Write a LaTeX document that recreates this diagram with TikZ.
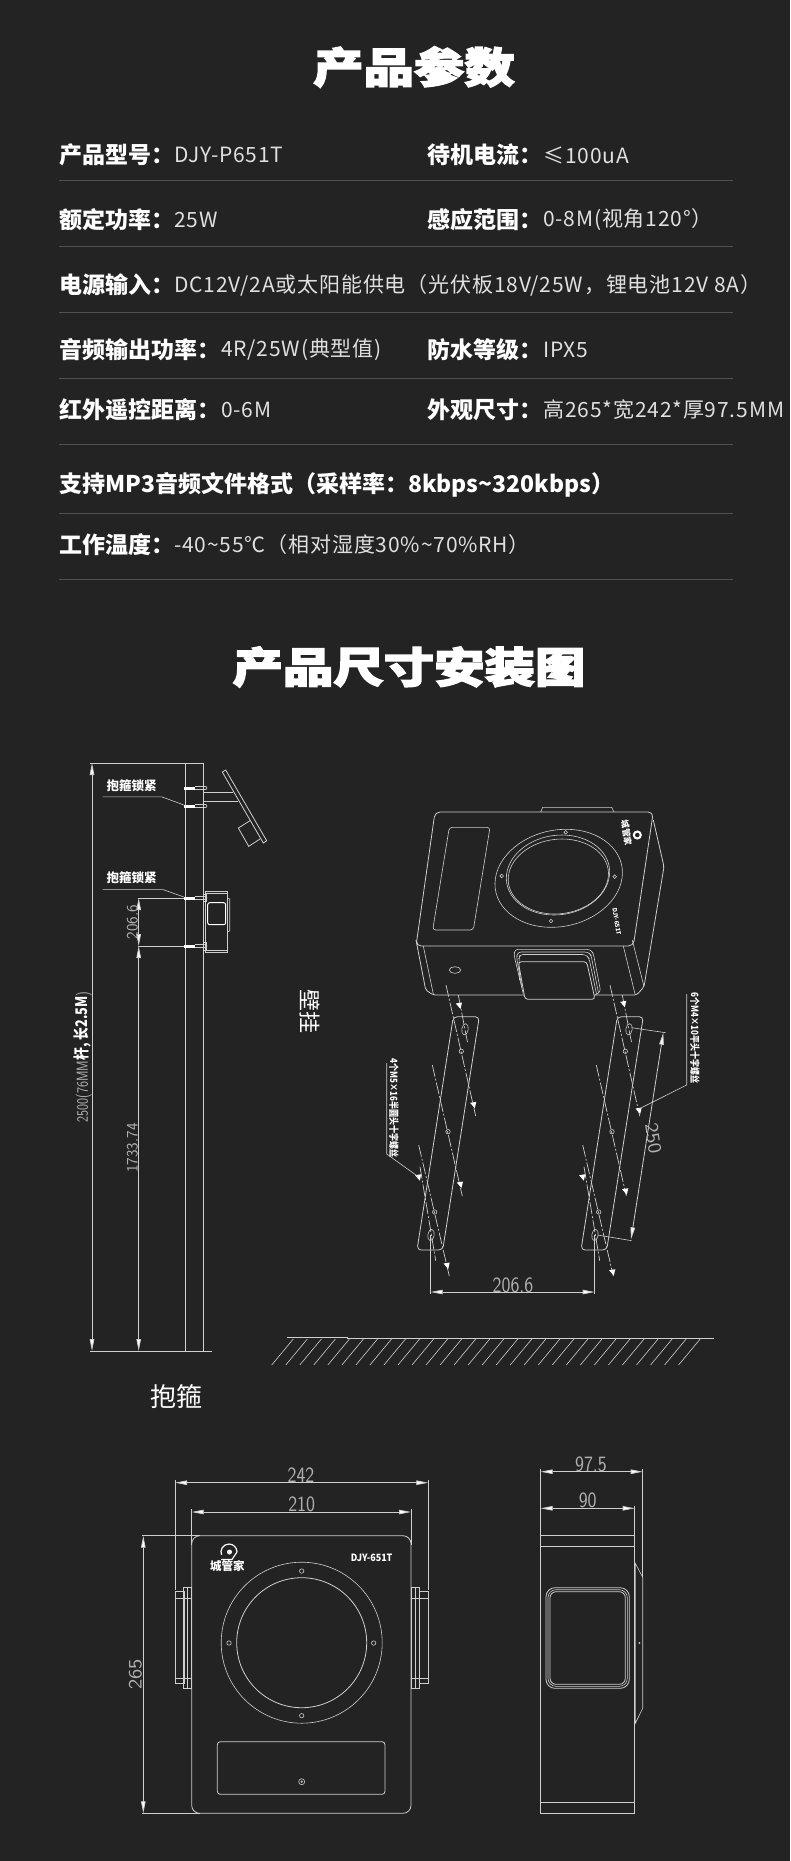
\documentclass[tikz,border=0pt]{standalone}
\usepackage{fontspec}
\setmainfont{Noto Sans CJK SC}
\newfontfamily\ttlfont[BoldFeatures={FakeBold=3}]{Noto Sans CJK SC}
\newfontfamily\valfont[LetterSpace=4]{Noto Sans CJK SC}
\usetikzlibrary{arrows.meta}
\definecolor{bgdark}{HTML}{232323}
\definecolor{cadline}{HTML}{CFCFCF}
\definecolor{cadtext}{HTML}{B0B0B0}
\definecolor{rowrule}{HTML}{515151}
\tikzset{
	cad/.style={draw=cadline,line width=.8pt},
	dimline/.style={cad,{Triangle[length=12pt,width=4.5pt,fill=white]}-{Triangle[length=12pt,width=4.5pt,fill=white]}},
	extline/.style={draw=cadline,line width=.6pt},
	centerline/.style={draw=cadline,line width=.7pt,dash pattern=on 12pt off 2pt on 2pt off 2pt},
	bighead/.style={font=\ttlfont\bfseries\fontsize{42}{42}\selectfont,text=white,xscale=1.2,inner sep=0pt},
	rowkey/.style={font=\bfseries\fontsize{23}{23}\selectfont,text=white,anchor=west,inner sep=0pt},
	rowval/.style={font=\valfont\fontsize{21}{22}\selectfont,text=white!88!black,anchor=west,inner sep=0pt},
	dimtext/.style={font=\sffamily\fontsize{19}{19}\selectfont,text=cadtext,inner sep=0pt,yscale=1.15},
	poletext/.style={font=\sffamily\fontsize{16}{16}\selectfont,text=cadtext,inner sep=0pt,rotate=90},
	cadnote/.style={font=\bfseries\fontsize{12.5}{12.5}\selectfont,text=white,inner sep=0pt},
	screwnote/.style={font=\bfseries\fontsize{8}{8}\selectfont,text=white,inner sep=0pt,rotate=-90,yscale=1.25}
}
\begin{document}
\begin{tikzpicture}[x=1pt,y=-1pt]
	\fill[bgdark] (0,0) rectangle (790,1861);
	\useasboundingbox (0,0) rectangle (790,1861);
	\node[bighead] (paramhead) at (414,67) {产品参数};
	\node[rowkey] (keymodel) at (59,155) {产品型号：};
	\node[rowval] (valmodel) at (174,155) {DJY-P651T};
	\node[rowkey] (keyidle) at (427,155) {待机电流：};
	\node[rowval] (validle) at (543,155) {≤100uA};
	\node[rowkey] (keypower) at (59,220) {额定功率：};
	\node[rowval] (valpower) at (174,220) {25W};
	\node[rowkey] (keyrange) at (427,220) {感应范围：};
	\node[rowval] (valrange) at (543,220) {0-8M(视角120°）};
	\node[rowkey] (keyinput) at (59,285) {电源输入：};
	\node[rowval] (valinput) at (174,285) {DC12V/2A或太阳能供电（光伏板18V/25W，锂电池12V 8A）};
	\node[rowkey] (keyaudio) at (59,350) {音频输出功率：};
	\node[rowval] (valaudio) at (221,350) {4R/25W(典型值)};
	\node[rowkey] (keywater) at (427,350) {防水等级：};
	\node[rowval] (valwater) at (543,350) {IPX5};
	\node[rowkey] (keyremote) at (59,410) {红外遥控距离：};
	\node[rowval] (valremote) at (221,410) {0-6M};
	\node[rowkey] (keysize) at (427,410) {外观尺寸：};
	\node[rowval] (valsize) at (543,410) {高265*宽242*厚97.5MM};
	\node[rowkey] (keymp) at (59,485) {支持MP3音频文件格式（采样率：8kbps\textasciitilde320kbps）};
	\node[rowkey] (keytemp) at (59,545) {工作温度：};
	\node[rowval] (valtemp) at (174,545) {-40\textasciitilde55℃（相对湿度30\%\textasciitilde70\%RH）};
	\foreach \ruley in {180,246.5,312,378.5,444.7,513.6,579.4}
		\draw[rowrule,line width=1pt] (59,\ruley) -- (733,\ruley);
	\node[bighead] (sizehead) at (409,667) {产品尺寸安装图};

	\draw[cad] (185,763) -- (185,1351);
	\draw[cad] (203,763) -- (203,1351);
	\draw[extline] (90,763) -- (203,763);
	\draw[extline] (90,1351) -- (212,1351);
	\draw[dimline] (92,763) -- (92,1351);
	\draw[dimline] (138.7,898) -- (138.7,946);
	\draw[dimline] (138.7,946) -- (138.7,1351);
	\draw[extline] (138,898) -- (185,898);
	\draw[extline] (138,946) -- (185,946);
	\node[poletext,xscale=.8] (poledim) at (83,1057) {2500(76MM\textcolor{white}{\normalfont\bfseries 杆, 长2.5M})};
	\node[poletext] (gapdim) at (132.5,922) {206.6};
	\node[poletext] (lowdim) at (132.5,1148) {1733.74};
	\node[cadnote] (clampnote) at (131.7,785.5) {抱箍锁紧};
	\node[cadnote] (lampnote) at (131.7,877.5) {抱箍锁紧};
	\draw[extline] (102.7,796.8) -- (161.7,796.8) -- (184,805);
	\draw[extline] (102.7,889.6) -- (163,889.6) -- (184,897);
	\foreach \clampy in {788,806,898,946}{
		\fill[white] (184,\clampy-1.5) rectangle (195,\clampy+1.5);
		\draw[extline] (195,\clampy-1.5) -- (206,\clampy-1.5) -- (207,\clampy) -- (206,\clampy+1.5) -- (195,\clampy+1.5);
	}
	\draw[extline] (203,792.3) -- (233,792.3);
	\draw[extline] (203,801.7) -- (238,801.7);
	\draw[cad] (222.3,772) -- (225.7,770) -- (266.7,840.7) -- (263.3,843) -- cycle;
	\draw[cad] (250,820.7) -- (238.3,828) -- (248.7,846.3) -- (260,839);
	\draw[extline] (205,891) rectangle (227.7,952.7);
	\draw[extline] (205,893.3) -- (227.7,893.3);
	\draw[extline] (205,950) -- (227.7,950);
	\draw[white,line width=1pt,rounded corners=2pt] (207.7,902.7) rectangle (225.7,924.7);
	\draw[extline] (227.7,898) -- (229.7,899) -- (229.7,931) -- (227.7,931.7);
	\draw[extline] (203,894) rectangle (206.7,901.7);
	\draw[extline] (203,942.7) rectangle (206.7,950);

	\node[font=\fontsize{22}{22}\selectfont,text=white,rotate=-90,inner sep=0pt] (wallnote) at (309.5,1011) {壁挂};
	\node[font=\fontsize{26}{26}\selectfont,text=white,inner sep=0pt] (hoopnote) at (176,1397) {抱箍};

	\draw[cad,rounded corners=5pt] (435,812) -- (653.3,812) -- (633.3,946) -- (416,946) -- cycle;
	\draw[extline] (540.7,812) -- (542.7,807.3) -- (611.7,807.3) -- (614,812);
	\draw[extline,rounded corners=3pt] (449.3,827.3) -- (490,827.3) -- (473.3,930) -- (432.7,930) -- cycle;
	\begin{scope}[shift={(558.7,878.3)},xslant=.15]
		\draw[extline] (0,0) ellipse (63.3pt and 49pt);
	\end{scope}
	\begin{scope}[shift={(558,875)},xslant=.1]
		\draw[extline] (0,0) ellipse (51.5pt and 40pt);
		\draw[extline] (.5,1.5) ellipse (50pt and 37.5pt);
	\end{scope}
	\foreach \hx/\hy in {565.7/832.3,551/921,501.7/876,614.7/876.7}
		\draw[extline] (\hx,\hy) circle[radius=1.8pt];
	\node[font=\bfseries\fontsize{8.5}{8.5}\selectfont,text=white,rotate=-81,inner sep=0pt] (tiltlogo) at (626.5,833) {城管家};
	\draw[white,line width=2pt] (637.3,835) circle[radius=3.5pt];
	\node[font=\bfseries\fontsize{6}{6}\selectfont,text=white,rotate=-81,inner sep=0pt] (tiltmodel) at (616.7,921.7) {DJY-651T};
	\draw[cad,rounded corners=2pt] (416,940) -- (425.7,990) -- (433.3,995) -- (636.7,995) -- (644,986.7) -- (664,866.7) -- (653.3,820);
	\draw[extline] (423.3,946) -- (433.3,994);
	\draw[extline] (623.3,946) -- (635,994);
	\draw[extline] (632.3,940) -- (644,986.7);
	\draw[extline] (455,970) ellipse (5.7pt and 3.3pt);
	\draw[extline,rounded corners=3pt] (523.3,994) -- (514,955) -- (515,949.3) -- (590,949.3) -- (593.3,953.3) -- (600.7,991.7) -- (595,995);
	\draw[extline,rounded corners=3pt] (521.5,985) -- (516.5,957) -- (518,952) -- (588,952) -- (591,955) -- (598.5,993);
	\draw[extline,rounded corners=3pt] (519.5,980) -- (519,958) -- (520,954.5) -- (585.7,954.5) -- (589,958) -- (596.5,994);
	\draw[cad,fill=bgdark,rounded corners=3pt] (518.3,961.7) -- (586.7,961.7) -- (595,999.3) -- (525,999.3) -- cycle;

	\foreach \bx in {0,164}{
		\begin{scope}[xshift=\bx pt]
			\draw[cad,rounded corners=4pt] (453.3,1016.7) -- (479.3,1016.7) -- (442.7,1250) -- (417,1250) -- cycle;
			\draw[extline,rotate around={-9:(465,1029.3)}] (465,1029.3) ellipse (3.2pt and 5.7pt);
			\draw[extline,rotate around={-9:(431,1235)}] (431,1235) ellipse (3.2pt and 5.7pt);
			\foreach \hy/\hx in {1051.3/461.3,1131.7/448,1212/434.7}
				\draw[extline] (\hx,\hy) circle[radius=2.2pt];
			\draw[centerline] (458.3,995) -- (467.7,1043.3);
			\draw[centerline] (446,985) -- (475.7,1116);
			\draw[centerline] (432.3,1065) -- (462.3,1196);
			\draw[centerline] (418.7,1145) -- (449.3,1276);
			\draw[centerline] (420,1166.7) -- (435.7,1260.7);
		\end{scope}
	}
	\foreach \sx/\sy in {459/1005,473.3/1104.3,460/1184,446.7/1265,418.3/1176.7,623.3/1003.3,638.7/1110,625.3/1190.7,612.3/1271.7,582.3/1176.7}
		\fill[white] (\sx-3.2,\sy-1.5) -- (\sx+3,\sy-2.5) -- (\sx+1.5,\sy+4) -- cycle;
	\draw[dimline] (430.7,1292) -- (594.7,1292);
	\draw[extline] (430.7,1235) -- (430.7,1294);
	\draw[extline] (594.7,1235) -- (594.7,1294);
	\node[dimtext] (spandim) at (513,1285) {206.6};
	\draw[dimline] (663.3,1032.7) -- (631,1239.3);
	\draw[extline] (631.7,1027.7) -- (665.7,1032.7);
	\draw[extline] (597.7,1235) -- (631.7,1240.7);
	\node[dimtext,rotate=-81] (slotdim) at (653.3,1138.3) {250};
	\draw[extline] (686.7,994) -- (686.7,1085) -- (638.3,1109.3);
	\draw[extline] (386.7,1063) -- (386.7,1154) -- (418.3,1176.7);
	\node[screwnote] (rightscrew) at (695,1038) {6个M4×10平头十字螺丝};
	\node[screwnote] (leftscrew) at (394,1108) {4个M5×16半圆头十字螺丝};

	\draw[cad] (286.7,1337.5) -- (347,1337.5) -- (347,1338.3) -- (714,1338.3);
	\foreach \i in {0,...,29}
		\draw[extline] ({271.7+14.03*\i},1365) -- ({293.3+14.03*\i},1339);

	\draw[cad,rounded corners=8pt] (191.7,1535.7) rectangle (411,1813.3);
	\draw[dimline] (175,1482.7) -- (428.3,1482.7);
	\draw[dimline] (191.7,1512) -- (411,1512);
	\draw[dimline] (143.3,1535.7) -- (143.3,1813.3);
	\draw[extline] (175,1480) -- (175,1590);
	\draw[extline] (428.3,1480) -- (428.3,1590);
	\draw[extline] (191.7,1509) -- (191.7,1545);
	\draw[extline] (411,1509) -- (411,1545);
	\draw[extline] (142,1535.7) -- (200,1535.7);
	\draw[extline] (142,1813.3) -- (200,1813.3);
	\node[dimtext] (widthdim) at (301,1475) {242};
	\node[dimtext] (innerdim) at (301.7,1504.5) {210};
	\node[dimtext,rotate=90] (heightdim) at (135.5,1674.3) {265};
	\draw[extline] (301.7,1642.7) circle[radius=80.5pt];
	\draw[cad] (301.7,1642.7) circle[radius=65pt];
	\foreach \hx/\hy in {301.7/1571,301.7/1715.7,229/1643,373.7/1643}
		\draw[extline] (\hx,\hy) circle[radius=2.2pt];
	\draw[cad,rounded corners=3pt] (217.3,1741.7) rectangle (385,1794.3);
	\draw[extline] (301.7,1781.7) circle[radius=3pt];
	\fill[cadline] (301.7,1781.7) circle[radius=1.2pt];
	\draw[extline] (175,1591.7) rectangle (184,1683.3);
	\draw[extline] (183.3,1587.7) rectangle (191.7,1688.3);
	\draw[extline] (187.3,1587.7) -- (187.3,1688.3);
	\draw[extline] (175,1598) -- (191.7,1598);
	\draw[extline] (175,1678) -- (191.7,1678);
	\draw[extline] (419.3,1591.7) rectangle (428.3,1683.3);
	\draw[extline] (411,1587.7) rectangle (419.3,1688.3);
	\draw[extline] (415,1587.7) -- (415,1688.3);
	\draw[extline] (411,1598) -- (428.3,1598);
	\draw[extline] (411,1678) -- (428.3,1678);
	\node[font=\bfseries\fontsize{10}{10}\selectfont,text=white,inner sep=0pt,xscale=.9] (frontmodel) at (371.7,1557.7) {DJY-651T};
	\node[font=\bfseries\fontsize{11.5}{11.5}\selectfont,text=white,inner sep=0pt] (frontlogo) at (227.3,1566) {城管家};
	\draw[white,line width=1.2pt] (237,1552) arc[start angle=0,end angle=200,radius=8pt];
	\draw[white,line width=1.2pt] (221,1559.5) -- (232,1559.5) -- (237,1552);
	\fill[white] (229.5,1552) circle[radius=2.5pt];

	\draw[cad] (540.7,1535.7) rectangle (634.7,1813.3);
	\draw[cad] (540.7,1546.7) -- (634.7,1546.7);
	\draw[cad] (540.7,1802.7) -- (634.7,1802.7);
	\draw[extline] (635.3,1563.3) -- (642.7,1577.3) -- (642.7,1708.3) -- (635.3,1723.3) -- cycle;
	\fill[cadline] (639.3,1643) circle[radius=1pt];
	\draw[cad,rounded corners=9pt] (546,1587.7) rectangle (629.3,1688.3);
	\draw[extline,rounded corners=8pt] (548,1589.7) rectangle (627.3,1686.3);
	\draw[cad,rounded corners=6pt] (550,1591.7) rectangle (625.3,1684.3);
	\draw[dimline] (540.7,1471.7) -- (642.7,1471.7);
	\draw[dimline] (540.7,1508.3) -- (634.7,1508.3);
	\draw[extline] (540.7,1469) -- (540.7,1535.7);
	\draw[extline] (642.7,1469) -- (642.7,1577.3);
	\draw[extline] (634.7,1506) -- (634.7,1535.7);
	\node[dimtext] (depthdim) at (591,1464) {97.5};
	\node[dimtext] (bodydim) at (587.7,1500.5) {90};
\end{tikzpicture}
\end{document}
